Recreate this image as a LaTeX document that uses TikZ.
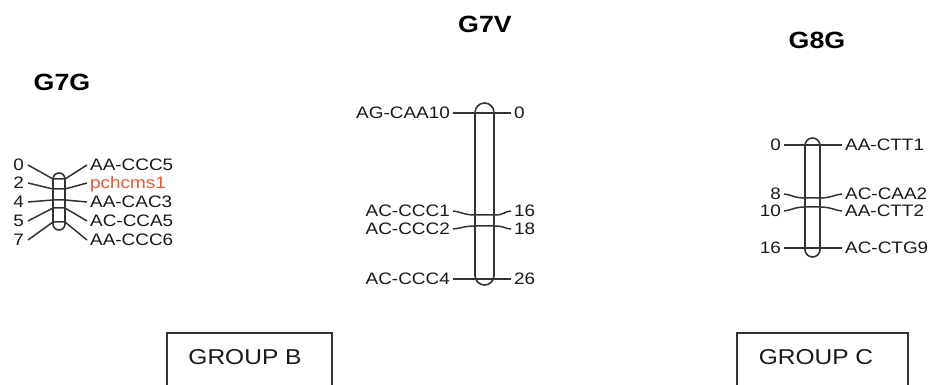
\documentclass[tikz,border=0pt]{standalone}
\usepackage{fontspec}
\setmainfont{Liberation Sans}[FakeStretch=1.14]
\definecolor{txt}{HTML}{1A1A1A}
\definecolor{ln}{HTML}{333333}
\definecolor{mkred}{HTML}{E45A35}
\begin{document}
\begin{tikzpicture}[x=1pt,y=-1pt,
  lbl/.style={font=\fontsize{16.6}{18}\selectfont, inner sep=0pt, text height=11.9pt, text depth=0pt, text=txt},
  ttl/.style={font=\fontsize{23.5}{26}\selectfont\bfseries, inner sep=0pt, text=black},
  chrom/.style={draw=ln, line width=1.6pt, inner sep=0pt},
  mk/.style={draw=ln, line width=1.5pt},
  grp/.style={draw=ln, line width=1.7pt},
  grptxt/.style={font=\fontsize{21.5}{24}\selectfont, inner sep=0pt, text=txt}]
\clip (0,0) rectangle (930,385);
\fill[white] (0,0) rectangle (930,385);

% titles
\node[ttl] (tG7G) at (62,82) {G7G};
\node[ttl] (tG7V) at (485,24) {G7V};
\node[ttl] (tG8G) at (817,40) {G8G};

% ---------- G7G ----------
\node[chrom, minimum width=12pt, minimum height=57pt, rounded corners=6pt] (cG) at (59,201.5) {};
\node[lbl, anchor=east] (g0a) at (24,165) {0};
\node[lbl, anchor=west] (g0b) at (90,165) {AA-CCC5};
\node[lbl, anchor=east] (g2a) at (24,183) {2};
\node[lbl, anchor=west, text=mkred] (g2b) at (90,183) {pchcms1};
\node[lbl, anchor=east] (g4a) at (24,202) {4};
\node[lbl, anchor=west] (g4b) at (90,202) {AA-CAC3};
\node[lbl, anchor=east] (g5a) at (24,221) {5};
\node[lbl, anchor=west] (g5b) at (90,221) {AC-CCA5};
\node[lbl, anchor=east] (g7a) at (24,240) {7};
\node[lbl, anchor=west] (g7b) at (90,240) {AA-CCC6};
\draw[mk] ([xshift=4pt]g0a.east) -- (53,179) -- (65,179) -- ([xshift=-3pt]g0b.west);
\draw[mk] ([xshift=4pt]g2a.east) -- (53,189) -- (65,189) -- ([xshift=-3pt]g2b.west);
\draw[mk] ([xshift=4pt]g4a.east) -- (53,200) -- (65,200) -- ([xshift=-3pt]g4b.west);
\draw[mk] ([xshift=4pt]g5a.east) -- (53,208) -- (65,208) -- ([xshift=-3pt]g5b.west);
\draw[mk] ([xshift=4pt]g7a.east) -- (53,222) -- (65,222) -- ([xshift=-3pt]g7b.west);

% ---------- G7V ----------
\node[chrom, minimum width=19pt, minimum height=182pt, rounded corners=9.5pt] (cV) at (484.5,194) {};
\node[lbl, anchor=east] (v0a) at (450,113) {AG-CAA10};
\node[lbl, anchor=west] (v0b) at (514,113) {0};
\node[lbl, anchor=east] (v16a) at (450,211) {AC-CCC1};
\node[lbl, anchor=west] (v16b) at (514,211) {16};
\node[lbl, anchor=east] (v18a) at (450,229) {AC-CCC2};
\node[lbl, anchor=west] (v18b) at (514,229) {18};
\node[lbl, anchor=east] (v26a) at (450,279) {AC-CCC4};
\node[lbl, anchor=west] (v26b) at (514,279) {26};
\draw[mk] ([xshift=3pt]v0a.east) -- ([xshift=-3pt]v0b.west);
\draw[mk] ([xshift=3pt]v16a.east) .. controls +(7,0.5) and +(-11,0) .. (475,215) -- (494,215) .. controls +(11,0) and +(-7,0.5) .. ([xshift=-3pt]v16b.west);
\draw[mk] ([xshift=3pt]v18a.east) .. controls +(7,-0.4) and +(-11,0) .. (475,226) -- (494,226) .. controls +(11,0) and +(-7,-0.4) .. ([xshift=-3pt]v18b.west);
\draw[mk] ([xshift=3pt]v26a.east) -- ([xshift=-3pt]v26b.west);

% ---------- G8G ----------
\node[chrom, minimum width=15pt, minimum height=119pt, rounded corners=7.5pt] (cC) at (812.5,197.5) {};
\node[lbl, anchor=east] (c0a) at (781,145) {0};
\node[lbl, anchor=west] (c0b) at (845,145) {AA-CTT1};
\node[lbl, anchor=east] (c8a) at (781,194) {8};
\node[lbl, anchor=west] (c8b) at (845,194) {AC-CAA2};
\node[lbl, anchor=east] (c10a) at (781,211) {10};
\node[lbl, anchor=west] (c10b) at (845,211) {AA-CTT2};
\node[lbl, anchor=east] (c16a) at (781,248) {16};
\node[lbl, anchor=west] (c16b) at (845,248) {AC-CTG9};
\draw[mk] ([xshift=3pt]c0a.east) -- ([xshift=-3pt]c0b.west);
\draw[mk] ([xshift=3pt]c8a.east) .. controls +(7,0.5) and +(-11,0) .. (805,198) -- (820,198) .. controls +(11,0) and +(-7,0.5) .. ([xshift=-3pt]c8b.west);
\draw[mk] ([xshift=3pt]c10a.east) .. controls +(7,-0.5) and +(-11,0) .. (805,207) -- (820,207) .. controls +(11,0) and +(-7,-0.5) .. ([xshift=-3pt]c10b.west);
\draw[mk] ([xshift=3pt]c16a.east) -- ([xshift=-3pt]c16b.west);

% ---------- groups ----------
\draw[grp] (167,333) rectangle (332,400);
\node[grptxt] (gB) at (245,357) {GROUP B};
\draw[grp] (737,333) rectangle (908,400);
\node[grptxt] (gC) at (816,357) {GROUP C};
\end{tikzpicture}
\end{document}
